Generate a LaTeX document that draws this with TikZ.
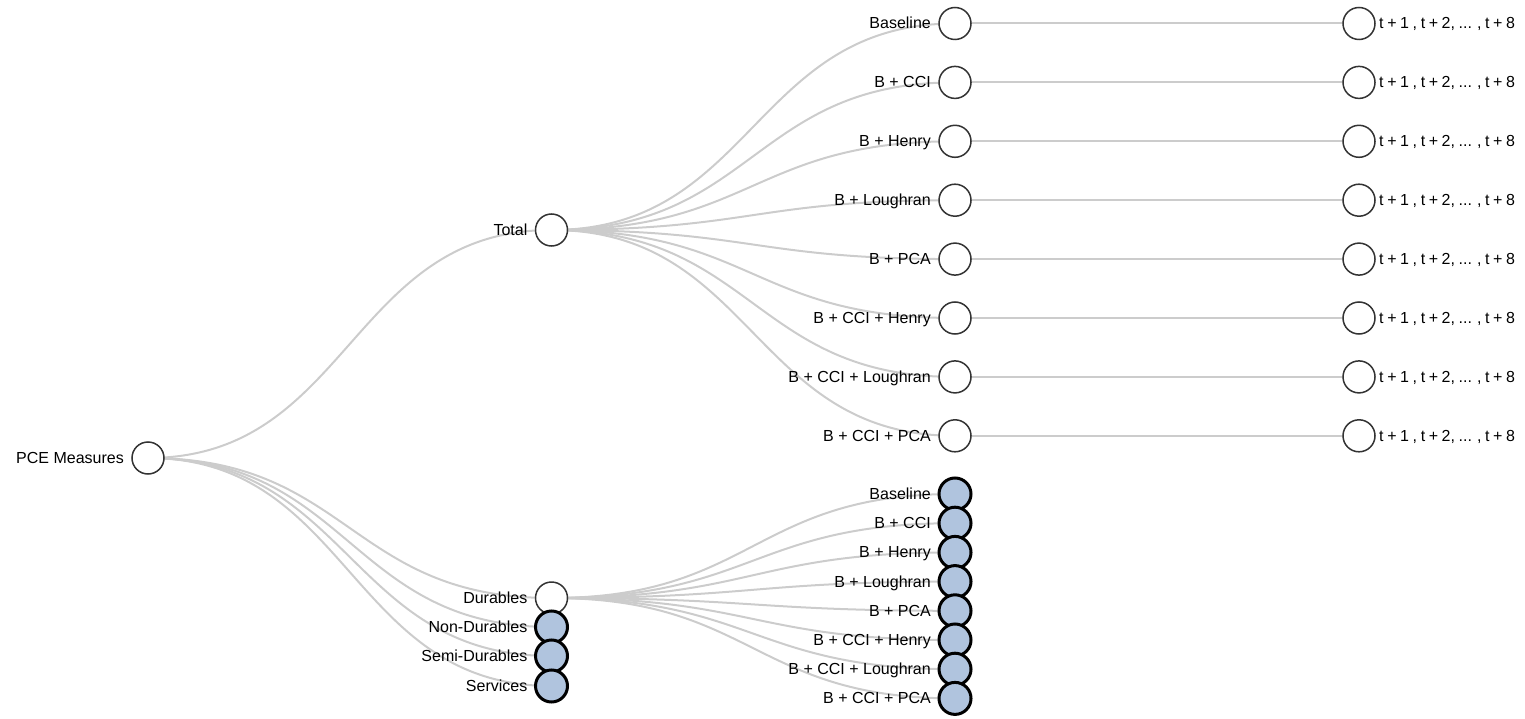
\documentclass[tikz,border=0pt]{standalone}
\usepackage{fontspec}
\setmainfont{Liberation Sans}
\usetikzlibrary{backgrounds}
\definecolor{linkc}{RGB}{204,204,204}
\definecolor{steel}{RGB}{176,196,222}
\definecolor{ringc}{RGB}{51,51,51}
\newcommand\horizontext{\spaceskip=3.6pt plus 0pt minus 0pt\relax t + 1 , t + 2, ... , t + 8}
\begin{document}
\begin{tikzpicture}[x=1pt,y=-1pt,
  link/.style={draw=linkc, line width=2pt, out=0, in=180, out distance=202pt, in distance=202pt},
  open/.style={circle, draw=ringc, line width=1.5pt, fill=white, minimum size=32pt, inner sep=0pt},
  done/.style={circle, draw=black, line width=3pt, fill=steel, minimum size=32pt, inner sep=0pt},
  lab/.style={anchor=base east, inner sep=0pt, font=\fontsize{16}{19}\selectfont, xshift=-24pt, yshift=-5.5pt},
  rlab/.style={anchor=base west, inner sep=0pt, font=\fontsize{16}{19}\selectfont, xshift=20pt, yshift=-5.5pt}]
\useasboundingbox (0,0) rectangle (1525,719);

% root
\node[open] (pce) at (148,458) {};
\node[lab] (pce-l) at (pce.center) {PCE Measures};

% depth 1
\node[open] (tot) at (551.5,230) {};
\node[lab] (tot-l) at (tot.center) {Total};
\node[open] (dur) at (551.5,598) {};
\node[lab] (dur-l) at (dur.center) {Durables};
\node[done] (ndur) at (551.5,627) {};
\node[lab] (ndur-l) at (ndur.center) {Non-Durables};
\node[done] (sdur) at (551.5,656) {};
\node[lab] (sdur-l) at (sdur.center) {Semi-Durables};
\node[done] (serv) at (551.5,686) {};
\node[lab] (serv-l) at (serv.center) {Services};

% depth 2 and leaves
\foreach \k/\t in {0/Baseline,1/B + CCI,2/B + Henry,3/B + Loughran,4/B + PCA,5/B + CCI + Henry,6/B + CCI + Loughran,7/B + CCI + PCA}{
  \node[open] (t\k) at (955,23.5+58.9*\k) {};
  \node[lab] (t\k-l) at (t\k.center) {\t};
  \node[open] (h\k) at (1359,23.5+58.9*\k) {};
  \node[rlab] (h\k-l) at (h\k.center) {\horizontext};
}
\foreach \k/\t in {0/Baseline,1/B + CCI,2/B + Henry,3/B + Loughran,4/B + PCA,5/B + CCI + Henry,6/B + CCI + Loughran,7/B + CCI + PCA}{
  \node[done] (d\k) at (955,494+29.2*\k) {};
  \node[lab] (d\k-l) at (d\k.center) {\t};
}

\begin{pgfonlayer}{background}
  \foreach \c in {tot,dur,ndur,sdur,serv}{
    \draw[link] (pce.center) to (\c.center);
  }
  \foreach \k in {0,...,7}{
    \draw[link] (tot.center) to (t\k.center);
    \draw[link] (dur.center) to (d\k.center);
    \draw[link] (t\k.center) to (h\k.center);
  }
\end{pgfonlayer}
\end{tikzpicture}
\end{document}
